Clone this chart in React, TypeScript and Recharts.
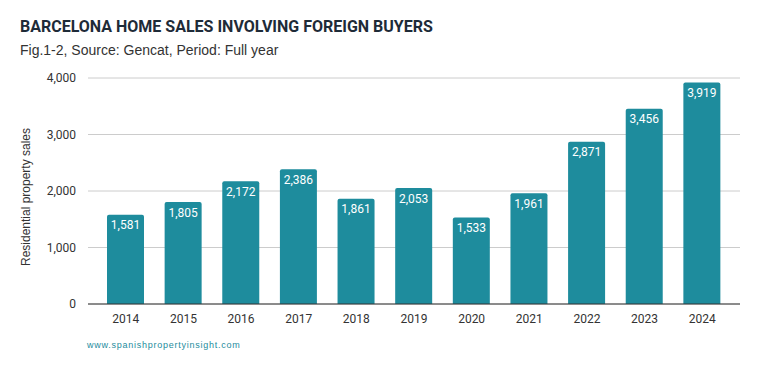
import React from 'react';
import { BarChart, Bar, XAxis, YAxis, CartesianGrid, LabelList } from 'recharts';

const years = ['2014', '2015', '2016', '2017', '2018', '2019', '2020', '2021', '2022', '2023', '2024'];
const sales = [1581, 1805, 2172, 2386, 1861, 2053, 1533, 1961, 2871, 3456, 3919];
const yTicks = [0, 1000, 2000, 3000, 4000];

const data = years.map((year, i) => ({ year, sales: sales[i] }));

const fmt = (v: number) => Number(v).toLocaleString('en-US');
const font = 'Roboto, Arial, sans-serif';
const arial = 'Arial, "Liberation Sans", sans-serif';

export default function App() {
  return (
    <div style={{ position: 'relative', width: 759, height: 371, fontFamily: font, background: '#fff' }}>
      <style>{'body{margin:0}'}</style>
      <div style={{ position: 'absolute', left: 20, top: 17, fontSize: 16, fontWeight: 700, color: '#1e2b38' }}>
        BARCELONA HOME SALES INVOLVING FOREIGN BUYERS
      </div>
      <div style={{ position: 'absolute', left: 20, top: 42, fontSize: 14, color: '#333', fontFamily: arial }}>
        Fig.1-2, Source: Gencat, Period: Full year
      </div>
      <div
        style={{
          position: 'absolute',
          left: 26,
          top: 197,
          fontSize: 12,
          color: '#333',
          whiteSpace: 'nowrap',
          fontFamily: arial,
          transform: 'translate(-50%, -50%) rotate(-90deg)',
        }}
      >
        Residential property sales
      </div>
      <div
        style={{
          position: 'absolute',
          left: 87,
          top: 340,
          fontSize: 9,
          letterSpacing: 0.75,
          color: '#1e8c9d',
          fontFamily: arial,
        }}
      >
        www.spanishpropertyinsight.com
      </div>
      <div style={{ position: 'absolute', left: 0, top: 0 }}>
        <BarChart width={759} height={371} data={data} margin={{ top: 78, right: 19, bottom: 37, left: 28 }}>
          <CartesianGrid vertical={false} stroke="#cccccc" />
          <XAxis
            dataKey="year"
            height={30}
            padding={{ left: 9, right: 9 }}
            tickLine={false}
            axisLine={{ stroke: '#333' }}
            tick={{ fill: '#333', fontSize: 12, fontFamily: font }}
            tickMargin={4}
          />
          <YAxis
            width={60}
            domain={[0, 4000]}
            ticks={yTicks}
            tickFormatter={fmt}
            axisLine={false}
            tickLine={false}
            tickMargin={6}
            tick={{ fill: '#333', fontSize: 12, fontFamily: font }}
          />
          <Bar dataKey="sales" fill="#1e8c9d" barSize={37} radius={[2, 2, 0, 0]} isAnimationActive={false}>
            <LabelList
              dataKey="sales"
              position="insideTop"
              offset={6}
              formatter={(v: any) => fmt(v)}
              style={{ fill: '#fff', fontSize: 12, fontFamily: font }}
            />
          </Bar>
        </BarChart>
      </div>
    </div>
  );
}
